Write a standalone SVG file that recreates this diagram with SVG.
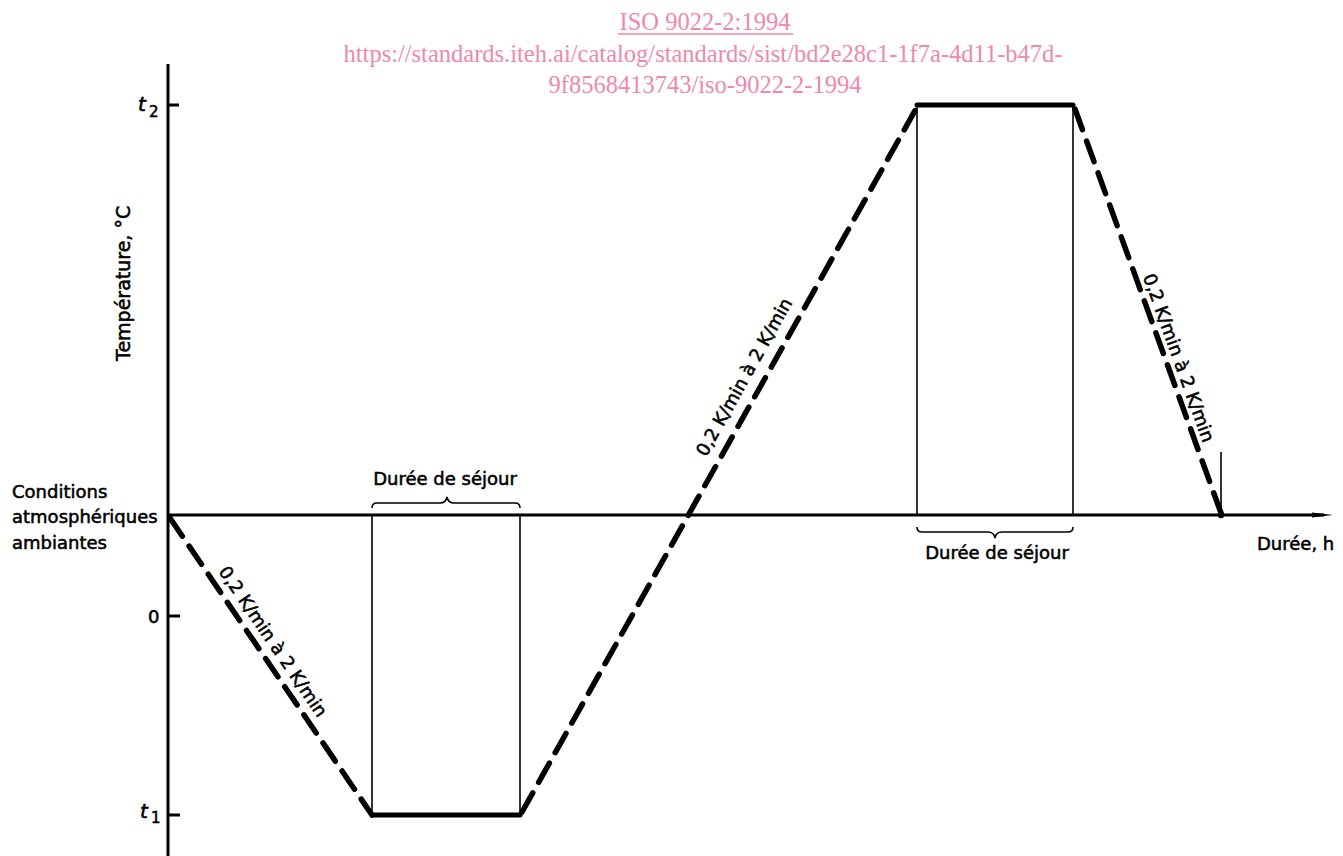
<svg xmlns="http://www.w3.org/2000/svg" width="1343" height="856" viewBox="0 0 1343 856">
<style>
.lbl{font-family:"DejaVu Sans","Liberation Sans",sans-serif;font-size:18px;fill:#000;stroke:#000;stroke-width:0.55}
.ax{stroke:#000;stroke-width:3;fill:none}
.thin{stroke:#000;stroke-width:1.6;fill:none}
.dash{stroke:#000;stroke-width:5.5;fill:none;stroke-dasharray:22 12;stroke-linecap:round}
.plat{stroke:#000;stroke-width:5;fill:none;stroke-linecap:round}
.pink{font-family:"Liberation Serif",serif;font-size:24.5px;fill:#ee88ad;text-anchor:middle}
.it{font-family:"DejaVu Sans","Liberation Sans",sans-serif;font-style:italic;font-size:20px;stroke:#000;stroke-width:0.6}
</style>
<rect width="1343" height="856" fill="#fff"/>
<g id="header">
<text class="pink" x="705" y="30">ISO 9022-2:1994</text>
<line x1="618" y1="34" x2="793" y2="34" stroke="#ee88ad" stroke-width="1.3"/>
<text class="pink" x="703" y="62">https://standards.iteh.ai/catalog/standards/sist/bd2e28c1-1f7a-4d11-b47d-</text>
<text class="pink" x="705" y="93">9f8568413743/iso-9022-2-1994</text>
</g>
<g id="axes">
<line class="ax" x1="168" y1="64" x2="168" y2="856"/>
<line class="ax" x1="168" y1="515" x2="1324" y2="515"/>
<path d="M1312,512.5 L1333,515 L1312,517.5 Z" fill="#000"/>
<line class="ax" x1="168" y1="105" x2="179" y2="105"/>
<line class="ax" x1="168" y1="616" x2="180" y2="616"/>
<line class="ax" x1="168" y1="815" x2="180" y2="815"/>
</g>
<g id="axis-labels">
<text class="lbl" x="12" y="498">Conditions</text>
<text class="lbl" x="12" y="523">atmosphériques</text>
<text class="lbl" x="12" y="549">ambiantes</text>
<text class="lbl" x="148" y="623">0</text>
<text class="it" x="138" y="111">t</text><text class="lbl" x="149" y="117" style="font-size:15px">2</text>
<text class="it" x="140" y="818">t</text><text class="lbl" x="151" y="823" style="font-size:15px">1</text>
<text class="lbl" transform="translate(130,361) rotate(-90)" style="font-size:19px">Température, °C</text>
<text class="lbl" x="1257" y="550">Durée, h</text>
</g>
<g id="connectors">
<line class="dash" x1="170" y1="518" x2="372" y2="815"/>
<line class="plat" x1="372" y1="815" x2="520" y2="815"/>
<line class="dash" x1="522" y1="812" x2="917" y2="107"/>
<line class="plat" x1="917" y1="105" x2="1073" y2="105"/>
<line class="dash" x1="1075" y1="109" x2="1221" y2="513"/>
<circle cx="1221" cy="515" r="3.2" fill="#000"/>
<line class="thin" x1="1221" y1="452" x2="1221" y2="515"/>
<line class="thin" x1="372" y1="515" x2="372" y2="815"/>
<line class="thin" x1="520" y1="515" x2="520" y2="815"/>
<line class="thin" x1="917" y1="105" x2="917" y2="515"/>
<line class="thin" x1="1073" y1="105" x2="1073" y2="515"/>
</g>
<g id="brace-1">
<path class="thin" d="M372,508 Q372,503 377,503 L440,503 Q446,503 447,497 Q448,503 454,503 L515,503 Q520,503 520,508"/>
<text class="lbl" x="445" y="485" text-anchor="middle">Durée de séjour</text>
</g>
<g id="brace-2">
<path class="thin" d="M917,527 Q917,532 922,532 L988,532 Q994,532 995,538 Q996,532 1002,532 L1068,532 Q1073,532 1073,527"/>
<text class="lbl" x="997" y="559" text-anchor="middle">Durée de séjour</text>
</g>
<g id="slope-labels">
<text class="lbl" text-anchor="middle" transform="translate(268,645) rotate(55.8)">0,2 K/min à 2 K/min</text>
<text class="lbl" text-anchor="middle" transform="translate(749.5,380) rotate(-60.8)">0,2 K/min à 2 K/min</text>
<text class="lbl" text-anchor="middle" transform="translate(1173,360) rotate(70.15)">0,2 K/min à 2 K/min</text>
</g>
</svg>
